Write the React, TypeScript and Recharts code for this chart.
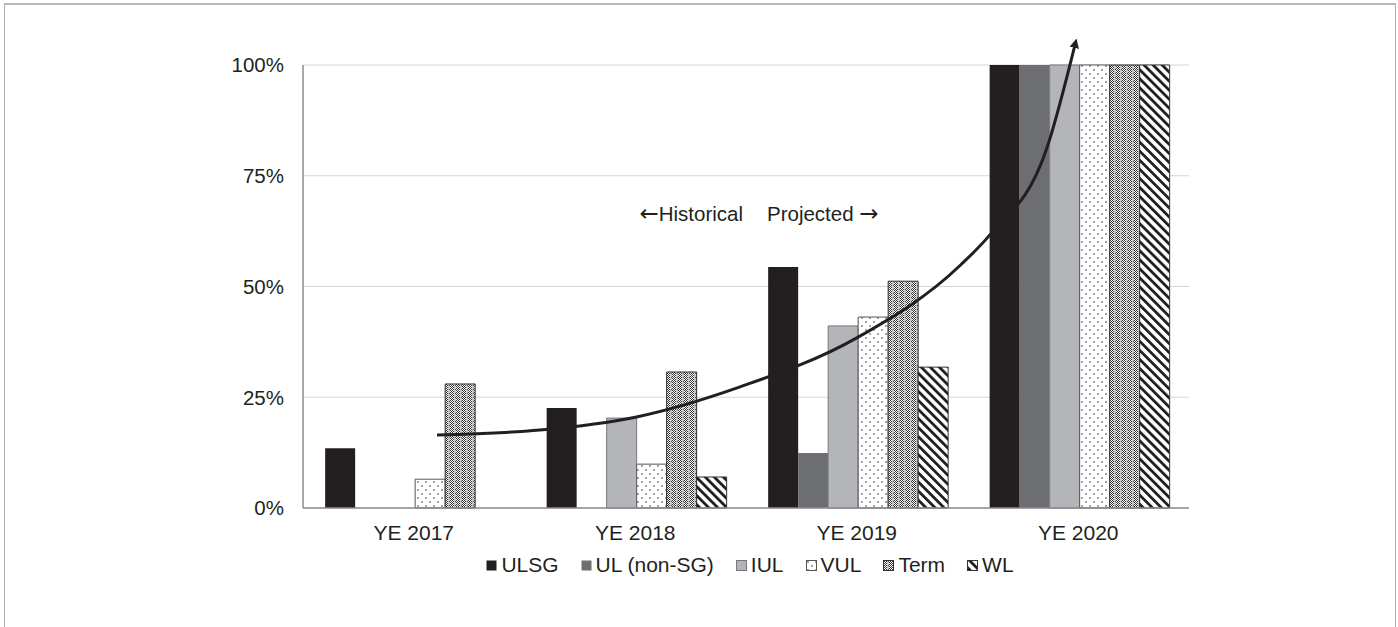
import React from 'react';
import {
  ComposedChart,
  Bar,
  Line,
  XAxis,
  YAxis,
  CartesianGrid,
  ReferenceLine,
} from 'recharts';

const categories = ['YE 2017', 'YE 2018', 'YE 2019', 'YE 2020'];
const ulsg = [13.5, 22.6, 54.4, 100];
const ulNonSg = [0, 0, 12.4, 100];
const iul = [0, 20.3, 41.1, 100];
const vul = [6.5, 9.9, 43.1, 100];
const term = [28, 30.7, 51.2, 100];
const wl = [0, 7, 31.8, 100];
const yTicks = [0, 25, 50, 75, 100];

// trend arrow (x in category-index units, y in %)
const curveX = [0.605, 1.07, 1.5, 1.97, 2.5, 2.97, 3.1, 3.36, 3.485];
const curveY = [16.5, 17.6, 20.5, 27.3, 38.4, 54.9, 61.6, 81.5, 104.5];

const seriesNames = ['ULSG', 'UL (non-SG)', 'IUL', 'VUL', 'Term', 'WL'];
const seriesValues = [ulsg, ulNonSg, iul, vul, term, wl];
const seriesFill = ['#231f20', '#6d6e71', '#b3b5b8', 'url(#pVul)', 'url(#pTerm)', 'url(#pWl)'];
const seriesStroke = ['#231f20', '#6d6e71', '#77787b', '#555555', '#333333', '#333333'];

const data = categories.map((c, i) => {
  const row: Record<string, any> = { cat: c };
  seriesNames.forEach((s, k) => {
    row[s] = seriesValues[k][i];
  });
  return row;
});

const curveData = curveX.map((x, i) => ({ x, y: curveY[i] }));

const FONT = '"Liberation Sans", Arial, sans-serif';
const ARROW_FONT = '"DejaVu Sans", sans-serif';

function Patterns() {
  return (
    <svg width={0} height={0} style={{ position: 'absolute' }}>
      <defs>
        <pattern id="pVul" patternUnits="userSpaceOnUse" width={8} height={8}>
          <rect width={8} height={8} fill="#ffffff" />
          <circle cx={2} cy={2} r={0.8} fill="#333" />
          <circle cx={6} cy={6} r={0.8} fill="#333" />
        </pattern>
        <pattern id="pTerm" patternUnits="userSpaceOnUse" width={6} height={4}>
          <rect width={6} height={4} fill="#ffffff" />
          <rect x={0} y={0} width={1} height={1} fill="#333" />
          <rect x={2} y={0} width={1} height={1} fill="#333" />
          <rect x={1} y={1} width={1} height={1} fill="#333" />
          <rect x={3} y={1} width={1} height={1} fill="#333" />
          <rect x={0} y={2} width={1} height={1} fill="#333" />
          <rect x={2} y={2} width={1} height={1} fill="#333" />
          <rect x={1} y={3} width={1} height={1} fill="#333" />
          <rect x={3} y={3} width={1} height={1} fill="#333" />
          <rect x={4} y={0} width={2} height={4} fill="#c4c4c4" />
          <rect x={5} y={1} width={1} height={1} fill="#555" />
        </pattern>
        <pattern
          id="pWl"
          patternUnits="userSpaceOnUse"
          width={6.4}
          height={6.4}
          patternTransform="rotate(-45)"
        >
          <rect width={6.4} height={6.4} fill="#ffffff" />
          <rect width={2.8} height={6.4} fill="#231f20" />
        </pattern>
      </defs>
    </svg>
  );
}

export default function App() {
  return (
    <div
      style={{
        position: 'absolute',
        left: 0,
        top: 0,
        width: 1398,
        height: 627,
        overflow: 'hidden',
        background: '#ffffff',
        fontFamily: FONT,
      }}
    >
      <Patterns />
      <div
        style={{
          position: 'absolute',
          left: 4,
          top: 3,
          width: 1390,
          height: 700,
          borderTop: '2px solid #b3b9bf',
          borderLeft: '1.5px solid #a9b0b8',
          borderRight: '1.5px solid #a9b0b8',
        }}
      />
      <div style={{ position: 'absolute', left: 0, top: 0 }}>
        <ComposedChart
          width={1398}
          height={627}
          data={data}
          margin={{ top: 38.4, right: 209, bottom: 89, left: 223 }}
          barCategoryGap="10%"
          barGap={0}
        >
          <defs>
            <marker
              id="arrowhead"
              viewBox="0 0 10 10"
              refX={3}
              refY={5}
              markerWidth={3.2}
              markerHeight={3.2}
              orient="auto"
              markerUnits="strokeWidth"
            >
              <path d="M0,0 L10,5 L0,10 z" fill="#231f20" />
            </marker>
          </defs>
          <CartesianGrid
            vertical={false}
            horizontalValues={yTicks}
            stroke="#d6d6d6"
            strokeWidth={1.2}
          />
          <XAxis
            dataKey="cat"
            height={30}
            tickLine={false}
            tickSize={0}
            tickMargin={17}
            axisLine={{ stroke: '#8c8c8c', strokeWidth: 1.5 }}
            tick={{ fill: '#231f20', fontSize: 21, fontFamily: FONT }}
            interval={0}
          />
          <XAxis xAxisId="curve" type="number" dataKey="x" domain={[0, 4]} hide />
          <YAxis
            width={80}
            domain={[0, 106]}
            ticks={yTicks}
            tickFormatter={(v: number) => `${v}%`}
            axisLine={false}
            tickLine={false}
            tickSize={0}
            tickMargin={19}
            tick={{ fill: '#231f20', fontSize: 20.5, fontFamily: FONT }}
          />
          <ReferenceLine
            xAxisId="curve"
            segment={[
              { x: 0, y: 0 },
              { x: 0, y: 100 },
            ]}
            stroke="#8c8c8c"
            strokeWidth={1.5}
          />
          {seriesNames.map((s, k) => (
            <Bar
              key={s}
              dataKey={s}
              fill={seriesFill[k]}
              stroke={seriesStroke[k]}
              strokeWidth={k >= 2 ? 1 : 0}
              isAnimationActive={false}
            />
          ))}
          <Line
            xAxisId="curve"
            data={curveData}
            dataKey="y"
            type="monotone"
            stroke="#231f20"
            strokeWidth={3}
            dot={false}
            activeDot={false}
            isAnimationActive={false}
            markerEnd="url(#arrowhead)"
          />
        </ComposedChart>
      </div>
      <div
        style={{
          position: 'absolute',
          left: 0,
          width: 743,
          top: 200,
          textAlign: 'right',
          fontSize: 20.5,
          color: '#231f20',
          whiteSpace: 'nowrap',
        }}
      >
        <span style={{ fontFamily: ARROW_FONT, fontSize: 23 }}>←</span>Historical
      </div>
      <div
        style={{
          position: 'absolute',
          left: 767,
          top: 200,
          fontSize: 20.5,
          color: '#231f20',
          whiteSpace: 'nowrap',
        }}
      >
        Projected <span style={{ fontFamily: ARROW_FONT, fontSize: 23 }}>→</span>
      </div>
      <div
        style={{
          position: 'absolute',
          left: 0,
          width: 1500,
          top: 553,
          display: 'flex',
          justifyContent: 'center',
          alignItems: 'center',
          fontSize: 21,
          color: '#231f20',
          whiteSpace: 'nowrap',
        }}
      >
        {seriesNames.map((s, k) => (
          <div
            key={s}
            style={{
              display: 'flex',
              alignItems: 'center',
              marginRight: k < seriesNames.length - 1 ? 22 : 0,
            }}
          >
            <svg width={11} height={11} style={{ marginRight: 4 }}>
              <rect
                x={0.5}
                y={0.5}
                width={10}
                height={10}
                fill={seriesFill[k]}
                stroke={seriesStroke[k]}
                strokeWidth={k >= 2 ? 1 : 0}
              />
            </svg>
            <span>{s}</span>
          </div>
        ))}
      </div>
    </div>
  );
}
